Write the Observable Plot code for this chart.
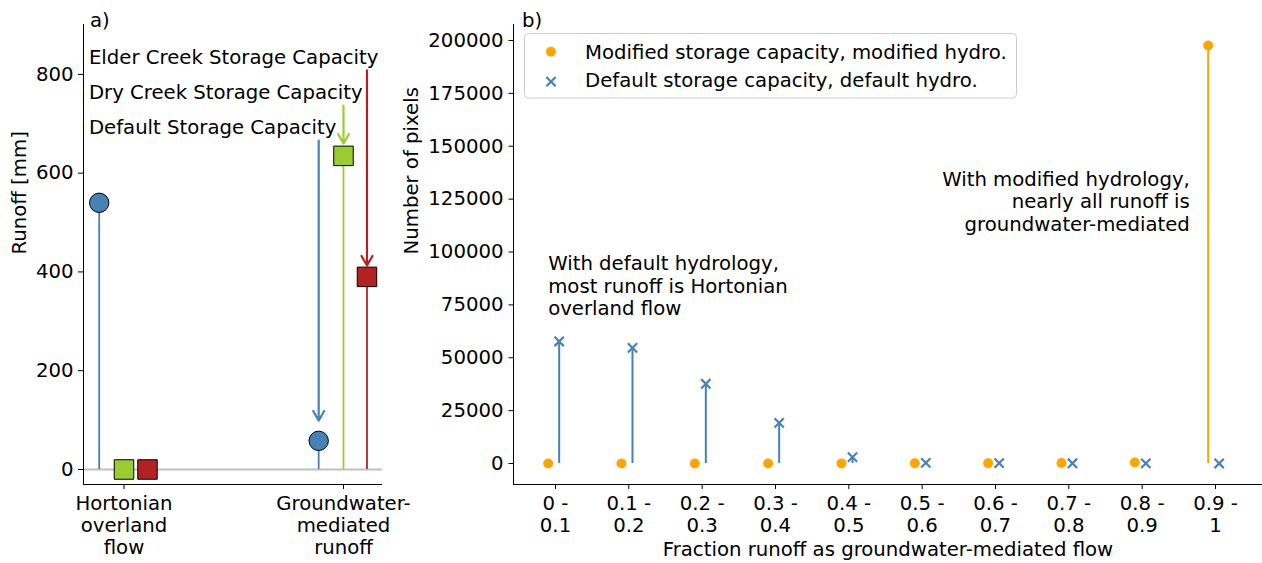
<!DOCTYPE html>
<html>
<head>
<meta charset="utf-8">
<script src="https://cdn.jsdelivr.net/npm/d3@7"></script>
<script src="https://cdn.jsdelivr.net/npm/@observablehq/plot@0.6"></script>
<style>
  html, body { margin: 0; padding: 0; background: #ffffff; }
  #wrap { position: relative; width: 1262px; height: 563px; overflow: hidden; background: #ffffff; font-family: "DejaVu Sans"; }
  #wrap svg { position: absolute; left: 0; top: 0; }
</style>
</head>
<body>
<div id="wrap"></div>
<script>
// ---------------- Panel a data ----------------
const flowTypes = ["Hortonian\noverland\nflow", "Groundwater-\nmediated\nrunoff"];
const scenarios = ["Default Storage Capacity", "Dry Creek Storage Capacity", "Elder Creek Storage Capacity"];
const scenarioColors = ["steelblue", "yellowgreen", "firebrick"];
const scenarioSymbols = ["circle", "square", "square"];
const hortonianRunoff = [540, 0, 0];
const groundwaterRunoff = [58, 635, 390];
const storageCapacity = [666, 737, 808];
const arrowTip = [99, 660, 413];
const runoffTicks = [0, 200, 400, 600, 800];
const runoffLabel = "Runoff [mm]";

// ---------------- Panel b data ----------------
const fractionBins = ["0 -\n0.1", "0.1 -\n0.2", "0.2 -\n0.3", "0.3 -\n0.4", "0.4 -\n0.5",
                      "0.5 -\n0.6", "0.6 -\n0.7", "0.7 -\n0.8", "0.8 -\n0.9", "0.9 -\n1"];
const modifiedCounts = [20, 20, 30, 40, 50, 80, 120, 200, 500, 197600];
const defaultCounts = [57700, 54700, 37700, 19200, 3000, 300, 200, 100, 50, 20];
const countTicks = [0, 25000, 50000, 75000, 100000, 125000, 150000, 175000, 200000];
const seriesNames = ["Modified storage capacity, modified hydro.", "Default storage capacity, default hydro."];
const seriesColors = ["orange", "steelblue"];
const xLabelB = "Fraction runoff as groundwater-mediated flow";
const yLabelB = "Number of pixels";
const noteDefault = "With default hydrology,\nmost runoff is Hortonian\noverland flow";
const noteModified = "With modified hydrology,\nnearly all runoff is\ngroundwater-mediated";

// ---------------- layout ----------------
const W = 1262, H = 563;
const FS = 19.7;
const baseStyle = {fontFamily: "DejaVu Sans", fontSize: FS + "px", color: "black", background: "transparent", overflow: "visible"};
const wrap = document.getElementById("wrap");

// ---------------- Panel a ----------------
const aX = [-0.1845, 1.1777], aY = [-30.4, 901];
const offs = [-0.113, 0, 0.107];
const rows = [];
flowTypes.forEach((f, fi) => scenarios.forEach((s, si) =>
  rows.push({fi, si, v: (fi === 0 ? hortonianRunoff : groundwaterRunoff)[si]})));
const px = d => d.fi + offs[d.si];
const sIdx = scenarios.map((_, i) => i);

const plotA = Plot.plot({
  width: W, height: H,
  marginLeft: 83, marginRight: 880, marginTop: 24, marginBottom: 79,
  style: baseStyle,
  x: {type: "linear", domain: aX, ticks: [0, 1], tickFormat: () => "", tickSize: 5, label: null},
  y: {type: "linear", domain: aY, ticks: runoffTicks, tickFormat: d3.format("d"), tickSize: 5, tickPadding: 5, label: null},
  color: {type: "identity"},
  marks: [
    Plot.ruleY([0], {stroke: "#c0c0c0", strokeWidth: 2}),
    Plot.ruleX(rows, {x: px, y1: 0, y2: "v", stroke: d => scenarioColors[d.si], strokeWidth: 1.8}),
    Plot.arrow(sIdx, {x1: i => 1 + offs[i], x2: i => 1 + offs[i], y1: i => storageCapacity[i], y2: i => arrowTip[i],
                      stroke: i => scenarioColors[i], strokeWidth: 2.2, headLength: 7.5}),
    Plot.dot(rows.filter(d => scenarioSymbols[d.si] === "circle"),
             {x: px, y: "v", r: 9.7, fill: d => scenarioColors[d.si], stroke: "black", strokeWidth: 1}),
    Plot.dot(rows.filter(d => scenarioSymbols[d.si] === "square"),
             {x: px, y: "v", r: 11, symbol: "square", fill: d => scenarioColors[d.si], stroke: "black", strokeWidth: 1}),
    Plot.ruleX([aX[0]], {stroke: "black", strokeWidth: 1}),
    Plot.ruleY([aY[0]], {stroke: "black", strokeWidth: 1}),
    Plot.text(sIdx, {x: -0.16, y: i => storageCapacity[i], text: i => scenarios[i],
                     textAnchor: "start", lineAnchor: "bottom", dy: -6.7}),
    Plot.text(flowTypes, {x: (d, i) => i, text: d => d, frameAnchor: "bottom",
                          lineAnchor: "top", lineHeight: 1.10, dy: 10.6}),
    Plot.text([runoffLabel], {text: d => d, frameAnchor: "left", rotate: -90, dx: -63.5}),
    Plot.text(["a)"], {text: d => d, frameAnchor: "top-left", textAnchor: "start", lineAnchor: "bottom", dx: 6.5, dy: 2})
  ]
});
wrap.appendChild(plotA);

// ---------------- Panel b ----------------
const bX = [-0.5727, 9.641], bY = [-9929, 207565];
const bins = fractionBins.map((_, i) => i);
const plotB = Plot.plot({
  width: W, height: H,
  marginLeft: 513, marginRight: 0, marginTop: 24, marginBottom: 79,
  style: baseStyle,
  x: {type: "linear", domain: bX, ticks: bins, tickFormat: () => "", tickSize: 5, label: null},
  y: {type: "linear", domain: bY, ticks: countTicks, tickFormat: d3.format("d"), tickSize: 4.5, tickPadding: 5.5, label: null},
  marks: [
    Plot.ruleX(bins, {x: i => i - 0.1, y1: 0, y2: i => modifiedCounts[i], stroke: seriesColors[0], strokeWidth: 2}),
    Plot.ruleX(bins, {x: i => i + 0.05, y1: 0, y2: i => defaultCounts[i], stroke: seriesColors[1], strokeWidth: 2}),
    Plot.dot(bins, {x: i => i - 0.1, y: i => modifiedCounts[i], r: 5, fill: seriesColors[0]}),
    Plot.dot(bins, {x: i => i + 0.05, y: i => defaultCounts[i], r: 4.3, symbol: "times",
                    stroke: seriesColors[1], strokeWidth: 2.2}),
    Plot.ruleX([bX[0]], {stroke: "black", strokeWidth: 1}),
    Plot.ruleY([bY[0]], {stroke: "black", strokeWidth: 1}),
    Plot.text(fractionBins, {x: (d, i) => i, text: d => d, frameAnchor: "bottom",
                             lineAnchor: "top", lineHeight: 1.10, dy: 10.6}),
    Plot.text([xLabelB], {text: d => d, frameAnchor: "bottom", lineAnchor: "bottom", dy: 71}),
    Plot.text([yLabelB], {text: d => d, frameAnchor: "left", rotate: -90, dx: -101.7}),
    Plot.text([noteDefault], {x: -0.1, y: 70000, text: d => d, textAnchor: "start", lineAnchor: "bottom", lineHeight: 1.142}),
    Plot.text([noteModified], {x: 8.65, y: 110000, text: d => d, textAnchor: "end", lineAnchor: "bottom", lineHeight: 1.142}),
    Plot.text(["b)"], {text: d => d, frameAnchor: "top-left", textAnchor: "start", lineAnchor: "bottom", dx: 8.5, dy: 2})
  ]
});
wrap.appendChild(plotB);

// ---------------- Legend (panel b) ----------------
const leg = d3.select(wrap).append("svg")
  .attr("width", W).attr("height", H)
  .style("font-family", "DejaVu Sans").style("font-size", FS + "px");
leg.append("rect").attr("x", 524.5).attr("y", 33.5).attr("width", 492).attr("height", 64.5)
  .attr("rx", 4).attr("fill", "rgba(255,255,255,0.8)").attr("stroke", "#cccccc").attr("stroke-width", 1);
leg.append("circle").attr("cx", 551).attr("cy", 51.7).attr("r", 5).attr("fill", seriesColors[0]);
leg.append("path").attr("d", d3.symbol(d3.symbolTimes, Math.PI * 4.3 * 4.3)())
  .attr("transform", "translate(551,81.7)").attr("fill", "none")
  .attr("stroke", seriesColors[1]).attr("stroke-width", 2.2);
leg.append("text").attr("x", 585).attr("y", 58.5).attr("fill", "black").text(seriesNames[0]);
leg.append("text").attr("x", 585).attr("y", 87).attr("fill", "black").text(seriesNames[1]);
</script>
</body>
</html>
